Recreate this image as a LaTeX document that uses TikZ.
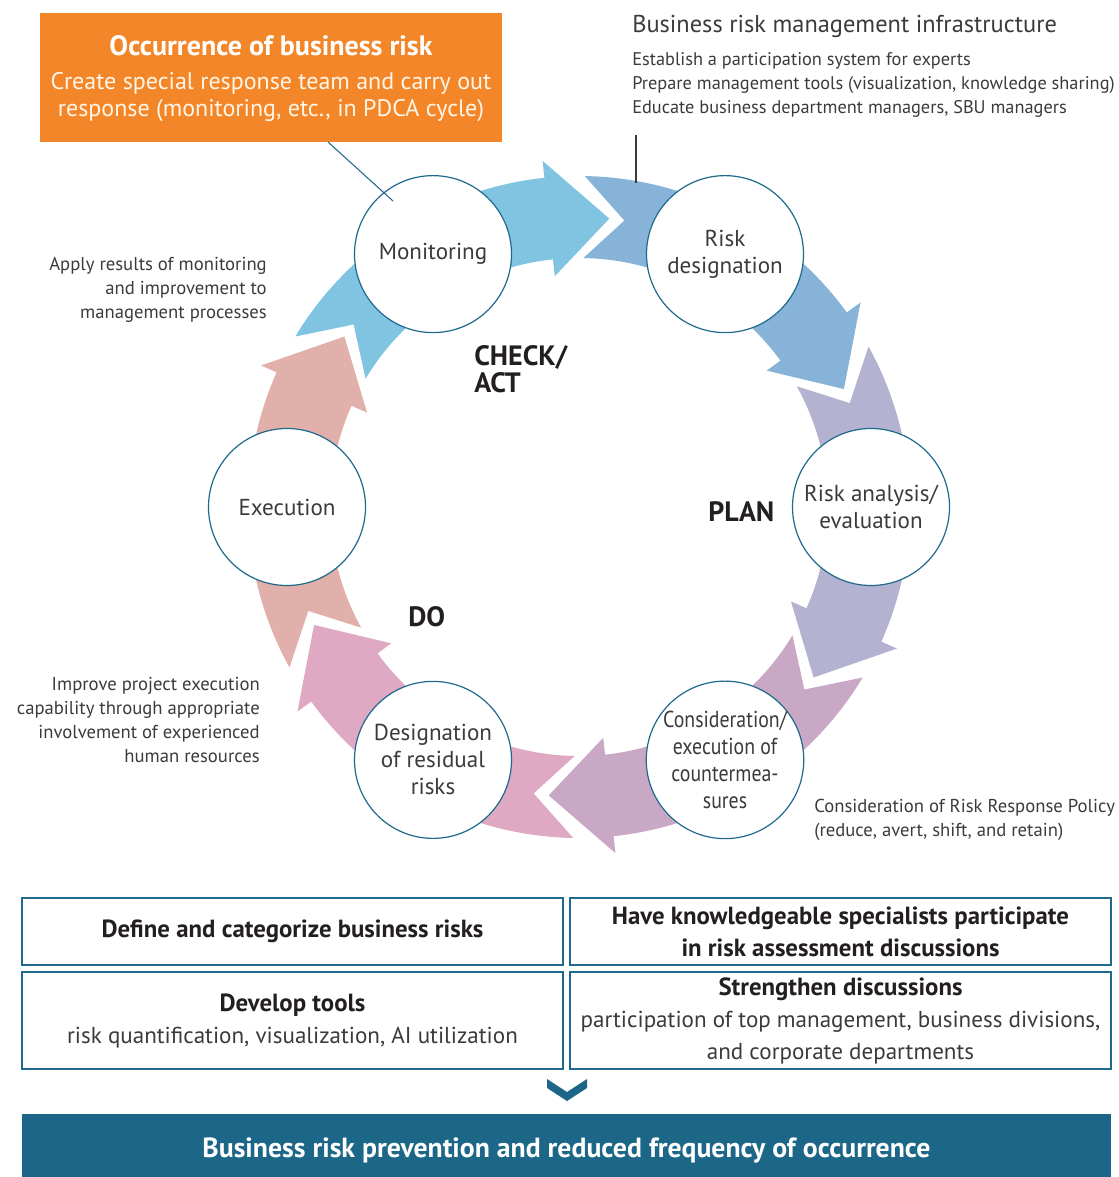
\documentclass[tikz,border=0pt]{standalone}
\usepackage{fontspec}
\setmainfont{PT Sans}
\newfontfamily\condfont[FakeStretch=0.86]{PT Sans}
\definecolor{ringline}{HTML}{1F6A8C}
\definecolor{txt}{HTML}{3B3B3B}
\definecolor{boldtxt}{HTML}{231F20}
\definecolor{occorange}{HTML}{F4862A}
\definecolor{occbody}{HTML}{FFF6E8}
\definecolor{banner}{HTML}{1C6688}
\definecolor{arA}{HTML}{80C4E1}
\definecolor{arB}{HTML}{86B3D7}
\definecolor{arC}{HTML}{B4B2D1}
\definecolor{arD}{HTML}{C9A8C5}
\definecolor{arE}{HTML}{DFA8C3}
\definecolor{arF}{HTML}{E2B0AA}
\newcommand\cyclearrow[2]{%
  \fill[#2] ({#1}:331) arc[start angle={#1}, end angle={#1-53}, radius=331]
    -- ({#1-53}:348) -- ({#1-65}:290) -- ({#1-53}:232) -- ({#1-53}:249)
    arc[start angle={#1-53}, end angle={#1}, radius=249]
    -- ({#1-8}:290) -- cycle;}
\tikzset{
  stage/.style={circle, draw=ringline, line width=0.9pt, fill=white,
    minimum size=117.75pt, inner sep=0pt, text=txt, align=center,
    font=\fontsize{17.3}{20.25}\selectfont},
  note/.style={text=txt, inner sep=0pt, font=\fontsize{14}{18}\selectfont},
  infonote/.style={text=txt, inner sep=0pt, font=\fontsize{13.75}{18}\selectfont},
  phase/.style={text=boldtxt, inner sep=0pt, align=left,
    font=\fontsize{21}{20.25}\selectfont\bfseries},
  infobox/.style={draw=ringline, line width=1.1pt, fill=white, inner sep=0pt,
    minimum width=405.75pt, align=center, text=txt,
    font=\fontsize{17.3}{24}\selectfont},
  leader/.style={line width=0.8pt}
}
\newcommand\boxhead[1]{\textcolor{boldtxt}{\fontsize{18.6}{24}\selectfont\bfseries #1}}
\begin{document}
\begin{tikzpicture}[x=0.75pt,y=0.75pt]
\useasboundingbox (0,0) rectangle (1119,-1177);

% ---- cycle arrows
\begin{scope}[shift={(579,-507)}]
  \cyclearrow{149}{arA}
  \cyclearrow{89}{arB}
  \cyclearrow{29}{arC}
  \cyclearrow{-31}{arD}
  \cyclearrow{-91}{arE}
  \cyclearrow{-151}{arF}
  \node[stage] (mon) at (120:292) {Monitoring};
  \node[stage] (rdes) at (60:292) {Risk\\designation};
  \node[stage] (rana) at (0:292) {Risk analysis/\\evaluation};
  \node[stage, font=\fontsize{17.3}{20.25}\condfont] (cons) at (-60:292)
    {Consideration/\\execution of\\countermea-\\sures};
  \node[stage] (resid) at (-120:292) {Designation\\of residual\\risks};
  \node[stage] (exec) at (180:292) {Execution};
\end{scope}

% ---- phase labels
\node[phase, anchor=base west] (check) at (474,-392) {CHECK/\\ACT};
\node[phase, anchor=base west] (plan) at (708,-521) {PLAN};
\node[phase, anchor=base west] (do) at (408,-626) {DO};

% ---- orange box
\node[fill=occorange, minimum width=346.5pt, minimum height=96.75pt,
  inner sep=0pt] (occ) at (271,-77.5) {};
\node[text=white, inner sep=0pt, anchor=base,
  font=\fontsize{21}{24}\selectfont\bfseries] (occtitle) at (271,-56)
  {Occurrence of business risk};
\node[text=occbody, inner sep=0pt, anchor=base, align=center,
  font=\fontsize{18}{20.25}\selectfont] (occtext) at (271,-117)
  {Create special response team and carry out\\response (monitoring, etc., in PDCA cycle)};
\coordinate (occfoot) at (328,-142);
\coordinate (monpoint) at (393,-201);
\draw[leader, ringline] (occfoot) -- (monpoint);

% ---- infrastructure text
\node[text=txt, inner sep=0pt, anchor=base west, font=\fontsize{18.3}{20}\selectfont]
  (infra) at (632,-33) {Business risk management infrastructure};
\node[infonote, anchor=base west] (inf1) at (632,-66) {Establish a participation system for experts};
\node[infonote, anchor=base west] (inf2) at (632,-90) {Prepare management tools (visualization, knowledge sharing)};
\node[infonote, anchor=base west] (inf3) at (632,-114) {Educate business department managers, SBU managers};
\coordinate (inftop) at (636,-135);
\coordinate (infbot) at (636,-183);
\draw[leader, txt] (inftop) -- (infbot);

% ---- side notes (anchored at the baseline of the last line)
\node[note, anchor=base east, align=right] (apply) at (267,-318)
  {Apply results of monitoring\\and improvement to\\management processes};
\node[note, anchor=base east, align=right] (improve) at (260,-762)
  {Improve project execution\\capability through appropriate\\involvement of experienced\\human resources};
\node[note, anchor=base west, align=left] (policy) at (814,-836)
  {Consideration of Risk Response Policy\\(reduce, avert, shift, and retain)};

% ---- bottom boxes
\node[infobox, minimum height=50.25pt] (boxA) at (292.5,-931.5)
  {\boxhead{Define and categorize business risks}};
\node[infobox, minimum height=50.25pt] (boxB) at (840.5,-931.5)
  {\boxhead{Have knowledgeable specialists participate}\\
   \boxhead{in risk assessment discussions}};
\node[infobox, minimum height=72.75pt] (boxC) at (292.5,-1020.5)
  {\boxhead{Develop tools}\\
   risk quantification, visualization, AI utilization};
\node[infobox, minimum height=72.75pt] (boxD) at (840.5,-1020.5)
  {\boxhead{Strengthen discussions}\\
   participation of top management, business divisions,\\
   and corporate departments};

% ---- chevron
\fill[banner] (547,-1079) -- (567,-1092) -- (587,-1079) -- (587,-1088)
  -- (567,-1101) -- (547,-1088) -- cycle;

% ---- banner
\node[fill=banner, minimum width=816.75pt, minimum height=54pt, inner sep=0pt,
  text=white, font=\fontsize{20.8}{24}\selectfont\bfseries] (result) at (566.5,-1150)
  {Business risk prevention and reduced frequency of occurrence};
\end{tikzpicture}
\end{document}
